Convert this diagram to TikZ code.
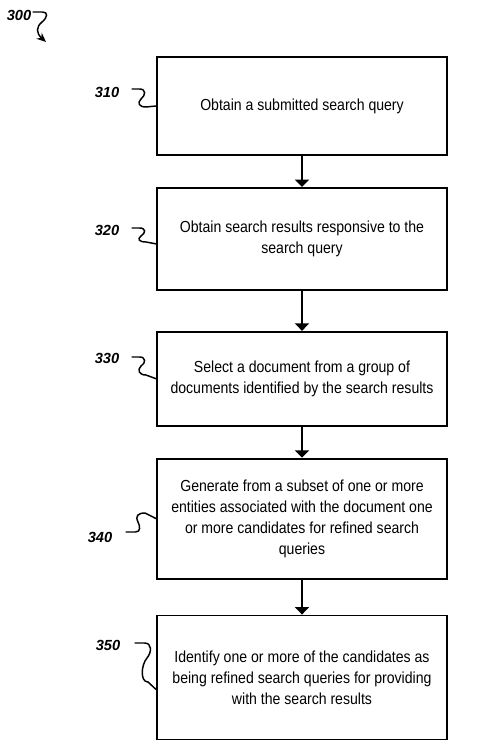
\documentclass[tikz,border=0pt]{standalone}
\usepackage{fontspec}
\setmainfont{Liberation Sans}[FakeStretch=0.88]
\newfontfamily\lblfont{Liberation Sans}
\usetikzlibrary{positioning,arrows.meta}

\begin{document}
\begin{tikzpicture}[x=0.75pt,y=-0.75pt,
  box/.style={draw,line width=1.4pt,minimum width=217.5pt,align=center,font=\fontsize{12}{15.75}\selectfont},
  lbl/.style={inner sep=0pt,font=\lblfont\bfseries\itshape\fontsize{11}{13}\selectfont},
  lead/.style={line width=1.1pt},
  flow/.style={line width=1.4pt,-{Triangle[width=10.5pt,length=5.5pt]}}]
  \useasboundingbox (0,0) rectangle (478,750);

  \node[box,minimum height=73.5pt] (b1) at (302,106) {Obtain a submitted search query};
  \node[box,minimum height=76.5pt] (b2) [below=23.25pt of b1] {Obtain search results responsive to the\\search query};
  \node[box,minimum height=70.5pt] (b3) [below=30pt of b2] {Select a document from a group of\\documents identified by the search results};
  \node[box,minimum height=90pt]   (b4) [below=23.25pt of b3] {Generate from a subset of one or more\\entities associated with the document one\\or more candidates for refined search\\queries};
  \node[box,minimum height=93pt]   (b5) [below=26.25pt of b4] {Identify one or more of the candidates as\\being refined search queries for providing\\with the search results};

  \node[lbl] (l300) at (19,15)  {300};
  \node[lbl] (l310) at (107,92) {310};
  \node[lbl] (l320) at (107,230) {320};
  \node[lbl] (l330) at (107,358) {330};
  \node[lbl] (l340) at (100,537) {340};
  \node[lbl] (l350) at (108,645) {350};
  \coordinate (a300) at (46,42);

  \path[flow] (b1) edge (b2)
              (b2) edge (b3)
              (b3) edge (b4)
              (b4) edge (b5);

  \draw[lead,-{Stealth[length=7pt,width=6pt]}] (l300.east) ++(1,-3) -- ++(10,0) .. controls (48,12) and (48,17) .. (42,22) .. controls (36,27) and (36,33) .. (a300);
  \draw[lead] (l310.east) ++(12,-3) -- ++(8,0) .. controls (146,89) and (146,95) .. (141,99) .. controls (137,103) and (139,107) .. (146,107) -- (b1.west);
  \draw[lead] (l320.east) ++(12,-2) -- ++(8,0) .. controls (146,228) and (146,233) .. (141,236) .. controls (137,239) and (139,242) .. (146,242) -- ([yshift=-3.75pt]b2.west);
  \draw[lead] (l330.east) ++(12,-1) -- ++(8,0) .. controls (146,357) and (146,363) .. (141,366) .. controls (137,370) and (139,375) .. (146,375) -- (b3.west);
  \draw[lead] (l340.east) ++(13,-5) -- ++(10,0) .. controls (141,532) and (140,526) .. (138,522) .. controls (135,516) and (138,513) .. (145,513) -- (b4.west);
  \draw[lead] (l350.east) ++(14,-2) -- ++(10,0) .. controls (152,643) and (152,652) .. (147,658) .. controls (141,665) and (140,682) .. (148,682) -- ([yshift=-9pt]b5.west);
\end{tikzpicture}
\end{document}
